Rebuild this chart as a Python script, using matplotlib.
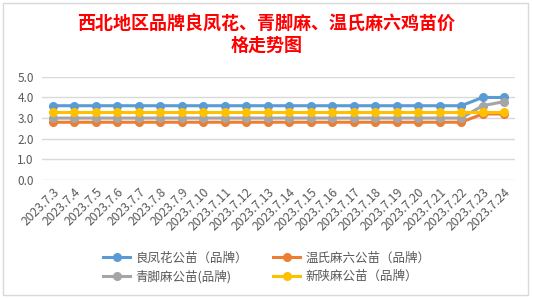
import matplotlib.pyplot as plt
from matplotlib.patches import Rectangle

plt.rcParams['font.family'] = ['Noto Sans CJK SC', 'DejaVu Sans']

# data
dates = ["2023.7.%d" % d for d in range(3, 25)]
liangfenghua = [3.6] * 20 + [4.0, 4.0]
wenshima = [2.8] * 20 + [3.2, 3.2]
qingjiaoma = [3.0] * 20 + [3.6, 3.8]
xinshanma = [3.3] * 20 + [3.3, 3.3]

series = [
    ("良凤花公苗（品牌）", liangfenghua, "#5B9BD5"),
    ("温氏麻六公苗（品牌）", wenshima, "#ED7D31"),
    ("青脚麻公苗(品牌)", qingjiaoma, "#A5A5A5"),
    ("新陕麻公苗（品牌）", xinshanma, "#FFC000"),
]

fig = plt.figure(figsize=(5.33, 2.99), dpi=100)
fig.patches.append(Rectangle((0.006, 0.015), 0.985, 0.975, transform=fig.transFigure,
                             fill=False, edgecolor="#D9D9D9", linewidth=1))
ax = fig.add_axes([0.079, 0.398, 0.887, 0.345])

x = list(range(len(dates)))
handles = {}
for name, vals, color in series:
    h, = ax.plot(x, vals, color=color, linewidth=2.2, marker="o", markersize=5.5, label=name)
    handles[name] = h

ax.set_xlim(-0.5, len(dates) - 0.5)
ax.set_ylim(0, 5)
ax.set_yticks([0, 1, 2, 3, 4, 5])
ax.set_yticklabels(["%.1f" % v for v in range(6)], fontsize=8.5, color="#595959")
ax.set_xticks(x)
ax.set_xticklabels(dates, rotation=45, ha="right", rotation_mode="anchor",
                   fontsize=8.8, color="#595959")
ax.tick_params(axis="y", length=0, pad=6)
ax.tick_params(axis="x", length=0, pad=4)
ax.grid(axis="y", color="#D9D9D9", linewidth=1)
ax.set_axisbelow(True)
for s in ax.spines.values():
    s.set_visible(False)

fig.text(0.5, 0.918, "西北地区品牌良凤花、青脚麻、温氏麻六鸡苗价", ha="center", va="center",
         color="red", fontsize=13, fontweight="bold")
fig.text(0.5, 0.847, "格走势图", ha="center", va="center",
         color="red", fontsize=13, fontweight="bold")

order = [series[0][0], series[2][0], series[1][0], series[3][0]]
fig.legend([handles[n] for n in order], order, loc="center", bbox_to_anchor=(0.5, 0.105),
           ncol=2, frameon=False, fontsize=9, labelcolor="#595959",
           handlelength=2.2, handletextpad=0.4, columnspacing=2.0, labelspacing=0.45)

fig.savefig("out.png", dpi=100)
